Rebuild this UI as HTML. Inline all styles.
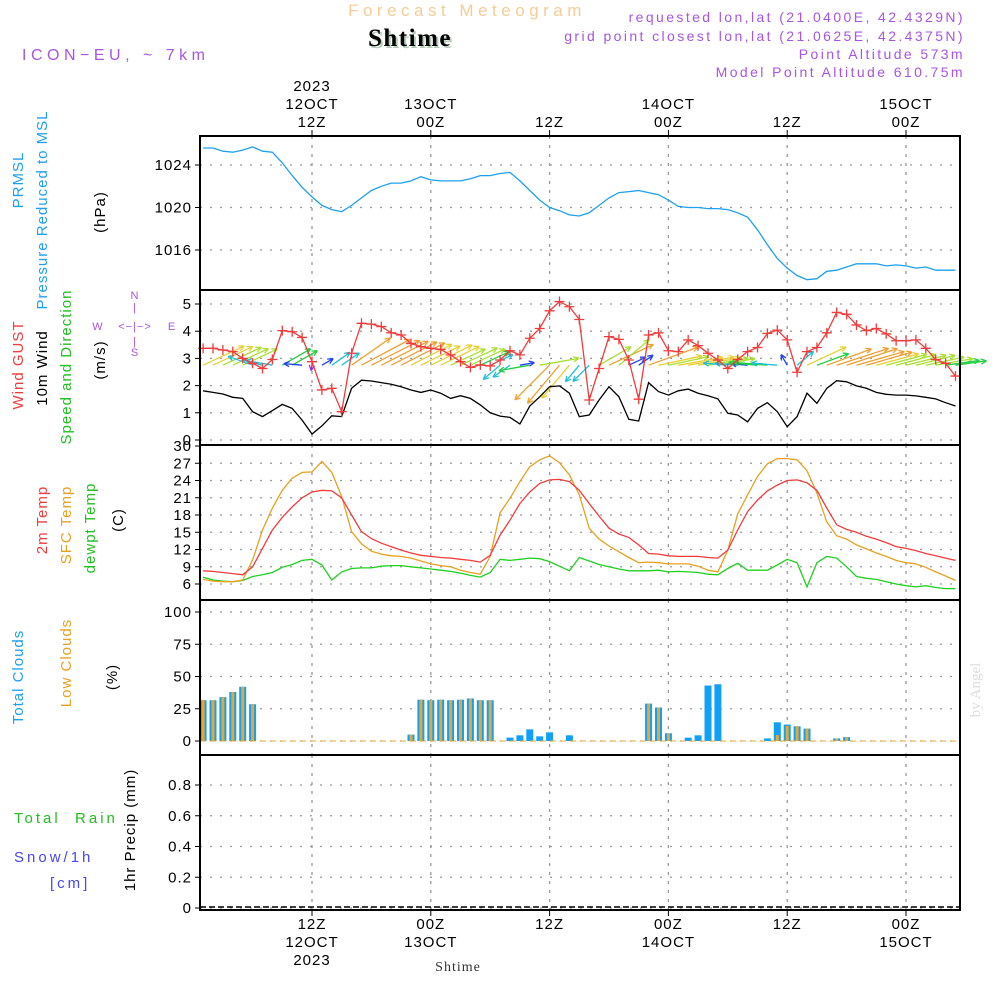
<!DOCTYPE html>
<html><head><meta charset="utf-8">
<style>
html,body{margin:0;padding:0;background:#fff;}
svg{display:block;}
text{font-family:"Liberation Sans",sans-serif;}
.t{font-size:15px;letter-spacing:1px;}
</style></head>
<body>
<svg id="chart" width="1000" height="1000" viewBox="0 0 1000 1000" xmlns="http://www.w3.org/2000/svg">
<text x="467" y="16" text-anchor="middle" font-size="17" fill="#f5cc96" letter-spacing="4.5">Forecast Meteogram</text>
<text x="412" y="48" text-anchor="middle" font-size="25" font-weight="bold" style="font-family:'Liberation Serif',serif" letter-spacing="1.5" fill="#b7ccb9">Shtime</text>
<text x="410" y="46" text-anchor="middle" font-size="25" font-weight="bold" style="font-family:'Liberation Serif',serif" letter-spacing="1.5" fill="#000">Shtime</text>
<text x="22" y="60" font-size="16" fill="#a855e0" letter-spacing="4.5">ICON−EU, ~ 7km</text>
<g font-size="14" fill="#a855e0" text-anchor="end" letter-spacing="2.4">
<text x="965" y="22">requested lon,lat (21.0400E, 42.4329N)</text>
<text x="965" y="41">grid point closest lon,lat (21.0625E, 42.4375N)</text>
<text x="965" y="59">Point Altitude 573m</text>
<text x="965" y="77">Model Point Altitude 610.75m</text>
</g>
<g id="grid"></g>
<g id="marks"></g>
<g id="frames"></g>
<g id="labels" class="t"></g>
<text x="980" y="690" font-size="15" fill="#dddddd" style="font-family:'Liberation Serif',serif" transform="rotate(-90 980 690)" text-anchor="middle">by Angel</text>
<text x="458" y="971" text-anchor="middle" font-size="14" style="font-family:'Liberation Serif',serif" letter-spacing="1" fill="#333">Shtime</text>
</svg>
<script>
// ---- data (hourly, hour index from 00Z 12OCT) ----
const hours = [];
for (let h = 1; h <= 77; h++) hours.push(h);
const pressure = [1025.6,1025.6,1025.3,1025.2,1025.4,1025.7,1025.3,1025.2,1024.2,1023,1021.9,1021,1020.2,1019.8,1019.6,1020.2,1020.9,1021.6,1022,1022.3,1022.3,1022.5,1022.9,1022.6,1022.5,1022.5,1022.5,1022.7,1023,1023,1023.2,1023.3,1022.5,1021.6,1020.7,1020,1019.7,1019.3,1019.2,1019.5,1020.2,1020.9,1021.4,1021.5,1021.6,1021.4,1021.2,1020.7,1020.1,1020,1020,1019.9,1019.9,1019.8,1019.5,1019.1,1017.9,1016.5,1015.2,1014.3,1013.6,1013.2,1013.3,1014,1014.1,1014.4,1014.7,1014.7,1014.7,1014.5,1014.6,1014.5,1014.3,1014.4,1014.1,1014.1,1014.1];
const gust = [3.37,3.37,3.31,3.25,3.0,2.82,2.63,2.96,4.02,3.98,3.77,2.88,1.84,1.9,1.04,3.19,4.29,4.26,4.17,3.94,3.86,3.55,3.43,3.37,3.33,3.13,2.88,2.67,2.76,2.72,2.94,3.28,3.13,3.74,4.1,4.75,5.09,4.9,4.43,1.47,2.63,3.8,3.7,2.94,1.5,3.86,3.94,3.28,3.25,3.68,3.47,3.19,2.94,2.63,2.96,3.25,3.4,3.92,4.04,3.68,2.49,3.25,3.4,3.94,4.69,4.62,4.23,4.02,4.1,3.9,3.65,3.65,3.68,3.37,2.96,2.82,2.35];
const wind10 = [1.81,1.75,1.69,1.57,1.53,1.04,0.86,1.08,1.31,1.16,0.73,0.22,0.52,0.89,0.86,1.9,2.2,2.17,2.11,2.05,1.96,1.84,1.75,1.84,1.72,1.53,1.63,1.53,1.29,1.0,0.88,0.83,0.59,1.25,1.59,1.96,1.99,1.72,0.86,0.92,1.47,1.96,1.59,0.76,0.7,2.11,1.78,1.65,1.81,1.87,1.72,1.63,1.51,0.98,0.92,0.67,1.16,1.37,1.04,0.49,0.86,1.72,1.35,1.9,2.18,2.14,1.99,1.9,1.75,1.68,1.65,1.65,1.62,1.57,1.51,1.37,1.25];
const windDir = [25,25,25,25,25,160,165,170,30,30,175,-100,30,35,35,35,28,27,27,27,27,27,26,26,26,25,25,25,25,25,220,215,10,190,10,225,230,230,230,225,30,25,40,25,35,20,12,12,10,10,10,10,10,175,175,175,175,175,175,120,40,25,20,20,18,18,16,16,15,15,15,14,14,12,10,8,8];
const temp2m = [8.3,8.2,8.0,7.8,7.6,9,12.2,15.4,17.6,19.4,21,22,22.3,22.2,21,18,15.1,13.9,13.1,12.5,11.9,11.4,11,10.8,10.6,10.5,10.3,10.1,9.8,11,14.5,17.1,20,22,23.5,24.1,24.2,23.8,22.3,20,17.8,15.7,14.7,14.1,12.8,11.3,11.2,10.9,10.8,10.8,10.8,10.6,10.5,11.9,15.4,18.6,20.6,22.2,23.2,24,24.1,23.6,22.3,19.2,16.3,15.5,15,14.3,13.8,13.2,12.5,12.2,11.8,11.3,10.9,10.5,10.1];
const tempSfc = [6.8,6.5,6.4,6.4,6.7,10.2,15.4,19.2,22.3,24.4,25.4,25.5,27.3,25.4,21.2,15.1,13,11.7,11.2,10.9,10.8,10.5,10,9.5,9.2,9,8.4,8,7.7,10.8,18.4,20.9,23.8,26.4,27.6,28.3,27.1,25,21.5,15.7,13.8,12.6,11.6,10.6,9.7,9.8,9.7,9.5,9.5,9.5,9.1,8.4,8.1,11.9,18.2,21.5,24.7,26.9,27.8,27.8,27.6,25.7,21.8,16.8,14.4,13.8,12.8,12.1,11.4,10.8,10.1,9.7,9.5,8.9,8.1,7.4,6.6];
const dewpt = [7.2,6.7,6.5,6.4,6.6,7.3,7.6,8,8.9,9.4,10.1,10.3,9.3,6.7,8.1,8.7,8.8,8.8,9.1,9.2,9.2,9,8.8,8.6,8.4,8.2,7.9,7.5,7.2,8,10.3,10.1,10.3,10.5,10.4,9.9,9.1,8.3,10.6,10,9.4,9,8.6,8.3,8.3,8.3,8.4,8.1,8.2,8.1,8,7.7,7.6,8.7,9.6,8.4,8.4,8.4,9.3,10.3,9.7,5.5,9.7,10.8,10.5,9,7.3,7,6.8,6.4,6,5.7,5.5,5.7,5.4,5.2,5.2];
const totalCloud = [31.6,31.6,34,38,42,28.5,0,0,0,0,0,0,0,0,0,0,0,0,0,0,0,5,32,31.6,32,31.6,32,33,31.6,31.6,0,2.6,4.4,9,3.6,6.7,0,4.4,0,0,0,0,0,0,0,29,26,6,0,2.6,4.4,43,44,0,0,0,0,2,14.5,12.7,11.4,9.6,0,0,2,3,0,0,0,0,0,0,0,0,0,0,0];
const lowCloud = [31.6,31.6,34,38,42,28.5,0,0,0,0,0,0,0,0,0,0,0,0,0,0,0,5,32,31.6,32,31.6,32,33,31.6,31.6,0,0,0,0,0,0,0,0,0,0,0,0,0,0,0,29,26,6,0,0,0,0,0,0,0,0,0,0,4.7,11.7,11.4,9.6,0,0,2,3,0,0,0,0,0,0,0,0,0,0,0];
const precip = [];
const xTickHours = [12,24,36,48,60,72];
const xTickTop = [["2023","12OCT","12Z"],["13OCT","00Z"],["12Z"],["14OCT","00Z"],["12Z"],["15OCT","00Z"]];
const xTickBottom = [["12Z","12OCT","2023"],["00Z","13OCT"],["12Z"],["00Z","14OCT"],["12Z"],["00Z","15OCT"]];
const pTicks = [1016,1020,1024];
const wTicks = [0,1,2,3,4,5];
const tTicks = [6,9,12,15,18,21,24,27,30];
const cTicks = [0,25,50,75,100];
const rTicks = [0,0.2,0.4,0.6,0.8];

// ---- layout ----
const X0=200, X1=960;
const xs = h => 312 + (h-12)*9.9;
const lin = (v0,y0,v1,y1) => v => y0 + (v-v0)*(y1-y0)/(v1-v0);
const yP = lin(1024,165,1016,250);
const yW = lin(0,440,5,304);
const yT = lin(6,584,30,446);
const yC = lin(0,741,100,612);
const yR = lin(0,908,0.8,785);
const panels = [[136,290],[290,445],[445,600],[600,755],[755,910]];
const NS='http://www.w3.org/2000/svg';
function mk(tag, attrs, parent, txt){const e=document.createElementNS(NS,tag);for(const k in attrs)e.setAttribute(k,attrs[k]);if(txt!==undefined)e.textContent=txt;parent.appendChild(e);return e;}
const grid=document.getElementById('grid'), marks=document.getElementById('marks'), frames=document.getElementById('frames'), labels=document.getElementById('labels');

function hgrid(ticks, sc, top){ticks.forEach(v=>{const y=sc(v); if(y>top+3) mk('line',{x1:X0,x2:X1,y1:y,y2:y,stroke:'#999','stroke-width':1.3,'stroke-dasharray':'2 8'},grid);});}
hgrid(pTicks,yP,136);hgrid(wTicks,yW,290);hgrid(tTicks,yT,445);hgrid(cTicks,yC,600);hgrid(rTicks,yR,755);
panels.forEach(p=>{xTickHours.forEach(h=>{mk('line',{x1:xs(h),x2:xs(h),y1:p[0],y2:p[1],stroke:'#999','stroke-width':1.3,'stroke-dasharray':'3 6'},grid);});});

function polyline(vals, sc, color, name, w){
  const pts = vals.map((v,i)=>xs(hours[i]).toFixed(1)+','+sc(v).toFixed(1)).join(' ');
  const e = mk('polyline',{points:pts,fill:'none',stroke:color,'stroke-width':w||1.3},marks);
  
  
}
polyline(pressure,yP,'#1ea0f0','prmsl-line');
function windColor(s){ if(s<0.4) return '#9a2be0'; if(s<0.8) return '#2040f0'; if(s<1.1) return '#20c0d8'; if(s<1.45) return '#20d040'; if(s<1.7) return '#a8e030'; if(s<1.9) return '#e8d030'; return '#f0a030';}
const baseY = yW(2.75);
wind10.forEach((s,i)=>{
  const a = windDir[i]*Math.PI/180, L = s*25;
  const x1=xs(hours[i]), y1=baseY, x2=x1+L*Math.cos(a), y2=y1-L*Math.sin(a);
  const c = windColor(s);
  const g = mk('g',{stroke:c,'stroke-width':1.3,fill:'none'},marks);
  
  
  mk('line',{x1:x1,y1:y1,x2:x2,y2:y2},g);
  const hl=6, ha=0.45;
  [a+Math.PI-ha,a+Math.PI+ha].forEach(b=>mk('line',{x1:x2,y1:y2,x2:x2+hl*Math.cos(b),y2:y2-hl*Math.sin(b)},g));
});
polyline(wind10,yW,'#000','wind-10m-line');
polyline(gust,yW,'#f03c3c','wind-gust-line');
gust.forEach((v,i)=>{const x=xs(hours[i]),y=yW(v);
  const p=mk('path',{d:`M${x-5},${y}H${x+5}M${x},${y-5}V${y+5}`,stroke:'#f03c3c','stroke-width':1.3},marks);
  
  
});
polyline(dewpt,yT,'#20d020','dewpoint-line');
polyline(tempSfc,yT,'#e8a020','sfc-temp-line');
polyline(temp2m,yT,'#f03c3c','temp-2m-line');
totalCloud.forEach((v,i)=>{const x=xs(hours[i]);
  const b=mk('rect',{x:x-3.5,y:yC(v),width:7,height:Math.max(0.1,yC(0)-yC(v)),fill:'#10a0f8'},marks);
  
  
});
lowCloud.forEach((v,i)=>{const x=xs(hours[i]);
  const b=mk('rect',{x:x-1.5,y:yC(v),width:3,height:Math.max(0.1,yC(0)-yC(v)),fill:'#e8a830'},marks);
  
  
});
mk('line',{x1:X0,x2:X1,y1:yC(0),y2:yC(0),stroke:'#e8a830','stroke-width':1,'stroke-dasharray':'6 4'},marks);
mk('line',{x1:X0,x2:X1,y1:yR(0)-1,y2:yR(0)-1,stroke:'#000','stroke-width':1.5,'stroke-dasharray':'6 3'},marks);

panels.forEach((p,i)=>{const r=mk('rect',{x:X0,y:p[0],width:X1-X0,height:p[1]-p[0],fill:'none',stroke:'#000','stroke-width':2},frames);
  
  
});
function yticks(ticks, sc, fmt, name){ticks.forEach(v=>{const y=sc(v);
  mk('line',{x1:X0-5,x2:X0,y1:y,y2:y,stroke:'#000','stroke-width':1},frames);
  const t=mk('text',{x:X0-8,y:y+5,'text-anchor':'end',fill:'#000'},labels,fmt(v));
  
  
});}
yticks(pTicks,yP,v=>v,'pressure-tick-label');
yticks(wTicks,yW,v=>v,'wind-tick-label');
yticks(tTicks,yT,v=>v,'temp-tick-label');
yticks(cTicks,yC,v=>v,'cloud-tick-label');
yticks(rTicks,yR,v=>v===0?'0':v.toFixed(1),'precip-tick-label');
xTickHours.forEach((h,i)=>{const x=xs(h);
  mk('line',{x1:x,x2:x,y1:130,y2:136,stroke:'#000'},frames);
  mk('line',{x1:x,x2:x,y1:910,y2:916,stroke:'#000'},frames);
  const top=xTickTop[i];
  top.forEach((s,j)=>{const t=mk('text',{x:x,y:127-(top.length-1-j)*18,'text-anchor':'middle',fill:'#000'},labels,s);
    
    });
  xTickBottom[i].forEach((s,j)=>{const t=mk('text',{x:x,y:929+j*18,'text-anchor':'middle',fill:'#000'},labels,s);
    
    });
});
function vlabel(x,y,txt,color,name){const t=mk('text',{x:x,y:y,'text-anchor':'middle',fill:color,transform:`rotate(-90 ${x} ${y})`},labels,txt);
  
  }
vlabel(23,180,'PRMSL','#1ea0f0','prmsl-title');
vlabel(47,210,'Pressure Reduced to MSL','#1ea0f0','pressure-title');
vlabel(105,212,'(hPa)','#000','pressure-unit');
vlabel(23,365,'Wind GUST','#f03c3c','gust-title');
vlabel(47,368,'10m Wind','#000','wind-title');
vlabel(71,367,'Speed and Direction','#20c020','wind-dir-title');
vlabel(105,360,'(m/s)','#000','wind-unit');
vlabel(47,520,'2m Temp','#f03c3c','temp2m-title');
vlabel(71,525,'SFC Temp','#e8a020','sfc-temp-title');
vlabel(95,528,'dewpt Temp','#20c020','dewpt-title');
vlabel(123,520,'(C)','#000','temp-unit');
vlabel(23,677,'Total Clouds','#1ea0f0','total-cloud-title');
vlabel(71,663,'Low Clouds','#e8a020','low-cloud-title');
vlabel(117,677,'(%)','#000','cloud-unit');
vlabel(135,830,'1hr Precip (mm)','#000','precip-title');
[['Total\u00a0\u00a0Rain',14,823,'#20c020','rain-title'],['Snow/1h',14,862,'#4848f0','snow-title'],['[cm]',50,888,'#4848f0','snow-unit']].forEach(a=>{
  const t=mk('text',{x:a[1],y:a[2],fill:a[3],'letter-spacing':3},labels,a[0]);
  
  });
const cg=mk('g',{fill:'#a855e0','font-size':11,'text-anchor':'middle'},labels);


[['N',135,299],['S',135,356],['W',98,330],['E',172,330],['<−|−>',135,330],['|',135,311],['|',135,345]].forEach(a=>mk('text',{x:a[1],y:a[2]},cg,a[0]));
</script>
</body></html>
